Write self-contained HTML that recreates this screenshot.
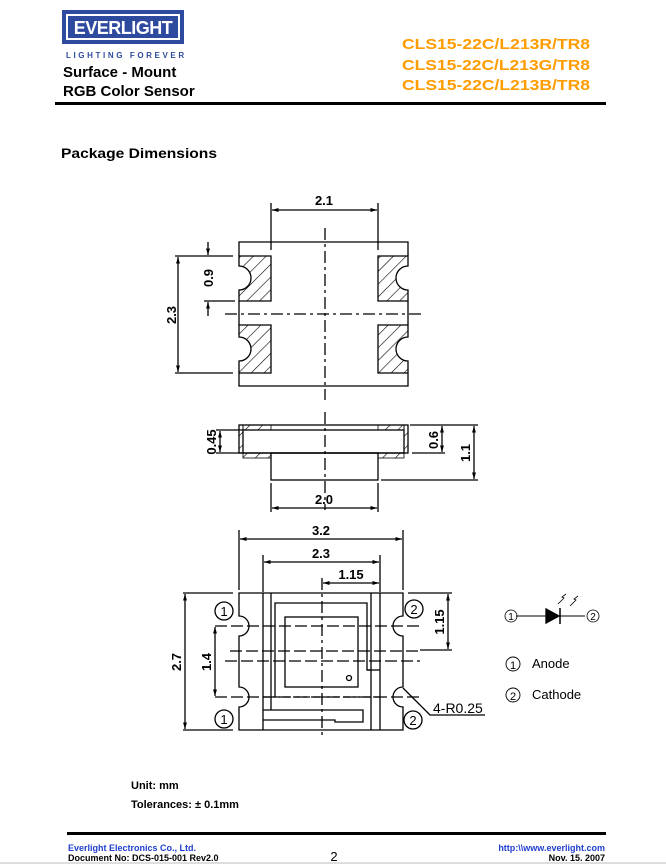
<!DOCTYPE html>
<html><head><meta charset="utf-8"><style>
html,body{margin:0;padding:0;background:#fff;}
svg{display:block}
text{font-family:"Liberation Sans",sans-serif;}
.d{font-family:"Liberation Sans",sans-serif;font-weight:bold;font-size:13px;}
</style></head><body>
<svg width="666" height="864" viewBox="0 0 666 864" xmlns="http://www.w3.org/2000/svg">
<defs>
<pattern id="h" patternUnits="userSpaceOnUse" width="9" height="9" patternTransform="rotate(45)">
<line x1="0" y1="0" x2="0" y2="9" stroke="#000" stroke-width="1.2"/></pattern>
<marker id="a" viewBox="0 0 10 10" refX="10" refY="5" markerWidth="6" markerHeight="5" orient="auto-start-reverse"><path d="M0,2 L10,5 L0,8z" fill="#000"/></marker>
</defs>
<!-- header -->
<rect x="62" y="10" width="122" height="34" fill="#2e4a9e"/>
<rect x="67" y="15" width="112" height="24" fill="none" stroke="#fff" stroke-width="2"/>
<text x="123" y="34" text-anchor="middle" fill="#fff" font-weight="bold" font-size="18" letter-spacing="-0.5">EVERLIGHT</text>
<text x="66" y="58" fill="#2e4a9e" font-size="8" letter-spacing="2.6" font-weight="bold">LIGHTING  FOREVER</text>
<text x="63" y="77" font-weight="bold" font-size="15">Surface - Mount</text>
<text x="63" y="96" font-weight="bold" font-size="15">RGB Color Sensor</text>
<g fill="#ff9c00" font-weight="bold" font-size="15">
<text x="402" y="49" textLength="188" lengthAdjust="spacingAndGlyphs">CLS15-22C/L213R/TR8</text>
<text x="402" y="70" textLength="188" lengthAdjust="spacingAndGlyphs">CLS15-22C/L213G/TR8</text>
<text x="402" y="90" textLength="188" lengthAdjust="spacingAndGlyphs">CLS15-22C/L213B/TR8</text></g>
<rect x="55" y="102" width="551" height="3" fill="#000"/>
<text x="61" y="158" font-weight="bold" font-size="13.5" textLength="156" lengthAdjust="spacingAndGlyphs">Package Dimensions</text>

<g stroke="#000" stroke-width="1.3" fill="none">
<!-- top view -->
<path d="M239,256 V242 H408 V256 M239,301 V325 M408,301 V325 M239,373 V386 H408 V373"/>
<path d="M239,256 H271 V301 H239 V290 A12,12 0 0 0 239,266Z" fill="url(#h)"/>
<path d="M239,325 H271 V373 H239 V361 A12,12 0 0 0 239,337Z" fill="url(#h)"/>
<path d="M408,256 H378 V301 H408 V290 A12,12 0 0 1 408,266Z" fill="url(#h)"/>
<path d="M408,325 H378 V373 H408 V361 A12,12 0 0 1 408,337Z" fill="url(#h)"/>
<line x1="325" y1="228" x2="325" y2="400" stroke-dasharray="12,4,3,4"/>
<line x1="225" y1="314" x2="425" y2="314" stroke-dasharray="12,4,3,4"/>
<line x1="271" y1="203" x2="271" y2="250"/><line x1="378" y1="203" x2="378" y2="250"/>
<line x1="272" y1="210" x2="377" y2="210" marker-start="url(#a)" marker-end="url(#a)"/>
<line x1="175" y1="256" x2="233" y2="256"/><line x1="175" y1="373" x2="233" y2="373"/>
<line x1="178" y1="257" x2="178" y2="372" marker-start="url(#a)" marker-end="url(#a)"/>
<line x1="208" y1="242" x2="208" y2="255" marker-end="url(#a)"/>
<line x1="208" y1="316" x2="208" y2="302" marker-end="url(#a)"/>
<line x1="204" y1="301" x2="235" y2="301"/>
<!-- side view -->
<rect x="239" y="425" width="169" height="28"/>
<rect x="243" y="430" width="161" height="23"/>
<rect x="239" y="425" width="4" height="28" fill="url(#h)" stroke-width="0.8"/>
<rect x="404" y="425" width="4" height="28" fill="url(#h)" stroke-width="0.8"/>
<rect x="243" y="425" width="28" height="5" fill="url(#h)" stroke-width="0.8"/>
<rect x="378" y="425" width="26" height="5" fill="url(#h)" stroke-width="0.8"/>
<rect x="243" y="453" width="28" height="5" fill="url(#h)" stroke-width="0.8"/>
<rect x="378" y="453" width="26" height="5" fill="url(#h)" stroke-width="0.8"/>
<rect x="271" y="453" width="107" height="27"/>
<line x1="325" y1="412" x2="325" y2="510" stroke-dasharray="12,4,3,4"/>
<line x1="216" y1="430" x2="243" y2="430"/><line x1="216" y1="453" x2="243" y2="453"/>
<line x1="220" y1="431" x2="220" y2="452" marker-start="url(#a)" marker-end="url(#a)"/>
<line x1="410" y1="425" x2="478" y2="425"/><line x1="412" y1="453" x2="445" y2="453"/>
<line x1="381" y1="480" x2="478" y2="480"/>
<line x1="442" y1="426" x2="442" y2="452" marker-start="url(#a)" marker-end="url(#a)"/>
<line x1="474" y1="426" x2="474" y2="479" marker-start="url(#a)" marker-end="url(#a)"/>
<line x1="271" y1="483" x2="271" y2="512"/><line x1="378" y1="483" x2="378" y2="512"/>
<line x1="272" y1="508" x2="377" y2="508" marker-start="url(#a)" marker-end="url(#a)"/>
<!-- bottom view -->
<path d="M239,593 H403 V616 A10,10 0 0 0 403,636 V687 A10,10 0 0 0 403,707 V730 H239 V707 A10,10 0 0 0 239,687 V636 A10,10 0 0 0 239,616Z"/>
<line x1="263" y1="593" x2="263" y2="730"/><line x1="271" y1="593" x2="271" y2="710"/>
<line x1="371" y1="593" x2="371" y2="730"/><line x1="380" y1="593" x2="380" y2="730"/>
<path d="M275,697 V603 H367 V670 H371"/>
<path d="M367,670 H380" />
<rect x="285" y="617" width="73" height="70"/>
<circle cx="349" cy="678" r="2.5"/>
<path d="M263,710 H363 V722 H335 V720 H263"/>
<line x1="263" y1="697" x2="380" y2="697" stroke-dasharray="7,3"/>
<line x1="215" y1="626" x2="420" y2="626" stroke-dasharray="12,4"/>
<line x1="215" y1="697" x2="420" y2="697" stroke-dasharray="12,4"/>
<line x1="230" y1="651" x2="420" y2="651" stroke-dasharray="12,4"/>
<line x1="225" y1="661" x2="420" y2="661" stroke-dasharray="12,4"/>
<line x1="322" y1="578" x2="322" y2="735" stroke-dasharray="12,4,3,4"/>
<line x1="239" y1="530" x2="239" y2="590"/><line x1="403" y1="530" x2="403" y2="590"/>
<line x1="263" y1="555" x2="263" y2="592"/><line x1="380" y1="555" x2="380" y2="592"/>
<line x1="240" y1="539" x2="402" y2="539" marker-start="url(#a)" marker-end="url(#a)"/>
<line x1="264" y1="562" x2="379" y2="562" marker-start="url(#a)" marker-end="url(#a)"/>
<line x1="323" y1="583" x2="379" y2="583" marker-start="url(#a)" marker-end="url(#a)"/>
<line x1="183" y1="593" x2="233" y2="593"/><line x1="183" y1="730" x2="233" y2="730"/>
<line x1="185" y1="594" x2="185" y2="729" marker-start="url(#a)" marker-end="url(#a)"/>
<line x1="215" y1="627" x2="215" y2="696" marker-start="url(#a)" marker-end="url(#a)"/>
<line x1="408" y1="593" x2="452" y2="593"/><line x1="420" y1="650" x2="452" y2="650"/>
<line x1="448" y1="594" x2="448" y2="649" marker-start="url(#a)" marker-end="url(#a)"/>
<circle cx="224" cy="611" r="9"/><circle cx="224" cy="719" r="9"/>
<circle cx="414" cy="609" r="9"/><circle cx="413" cy="720" r="9"/>
<path d="M403,688 L430,715 H485"/>
<!-- diode -->
<line x1="516" y1="616" x2="585" y2="616" stroke-width="1"/>
<path d="M546,609 L559,616 L546,623Z" fill="#000"/>
<line x1="560" y1="608" x2="560" y2="624" stroke-width="1.5"/>
<path d="M566,594 l-4,3 2,1 -6,6" stroke-width="0.8"/>
<path d="M578,596 l-4,3 2,1 -6,6" stroke-width="0.8"/>
<circle cx="511" cy="616" r="6" stroke-width="0.8"/><circle cx="593" cy="616" r="6" stroke-width="0.8"/>
<circle cx="513" cy="664" r="7" stroke-width="0.9"/><circle cx="513" cy="695" r="7" stroke-width="0.9"/>
</g>
<g class="d" text-anchor="middle">
<text x="324" y="205">2.1</text>
<text x="0" y="0" transform="translate(176,315) rotate(-90)">2.3</text>
<text x="0" y="0" transform="translate(213,278) rotate(-90)">0.9</text>
<text x="0" y="0" transform="translate(216,442) rotate(-90)">0.45</text>
<text x="0" y="0" transform="translate(438,440) rotate(-90)">0.6</text>
<text x="0" y="0" transform="translate(470,453) rotate(-90)">1.1</text>
<text x="324" y="504">2.0</text>
<text x="321" y="535">3.2</text>
<text x="321" y="558">2.3</text>
<text x="351" y="579">1.15</text>
<text x="0" y="0" transform="translate(181,662) rotate(-90)">2.7</text>
<text x="0" y="0" transform="translate(211,662) rotate(-90)">1.4</text>
<text x="0" y="0" transform="translate(444,622) rotate(-90)">1.15</text>
</g>
<g font-family="Liberation Serif,serif" font-size="13" text-anchor="middle">
<text x="224" y="616">1</text><text x="224" y="724">1</text>
<text x="414" y="614">2</text><text x="413" y="725">2</text>
<text x="511" y="620" font-size="10">1</text><text x="593" y="620" font-size="10">2</text>
<text x="513" y="669" font-size="11">1</text><text x="513" y="700" font-size="11">2</text>
</g>
<text x="433" y="713" font-family="Liberation Serif,serif" font-size="14">4-R0.25</text>
<text x="532" y="668" font-size="13">Anode</text>
<text x="532" y="699" font-size="13">Cathode</text>
<text x="131" y="789" font-weight="bold" font-size="11">Unit: mm</text>
<text x="131" y="808" font-weight="bold" font-size="11">Tolerances: ± 0.1mm</text>
<rect x="67" y="832" width="539" height="3" fill="#000"/>
<text x="68" y="851" fill="#1f3fd0" font-weight="bold" font-size="9">Everlight Electronics Co., Ltd.</text>
<text x="68" y="861" font-weight="bold" font-size="9">Document No: DCS-015-001 Rev2.0</text>
<text x="334" y="861" text-anchor="middle" font-size="13">2</text>
<text x="605" y="851" fill="#1f3fd0" font-weight="bold" font-size="9" text-anchor="end">http:\\www.everlight.com</text>
<text x="605" y="861" font-weight="bold" font-size="9" text-anchor="end">Nov. 15. 2007</text>
<rect x="0" y="862" width="666" height="2" fill="#ddd"/>
</svg>
</body></html>
